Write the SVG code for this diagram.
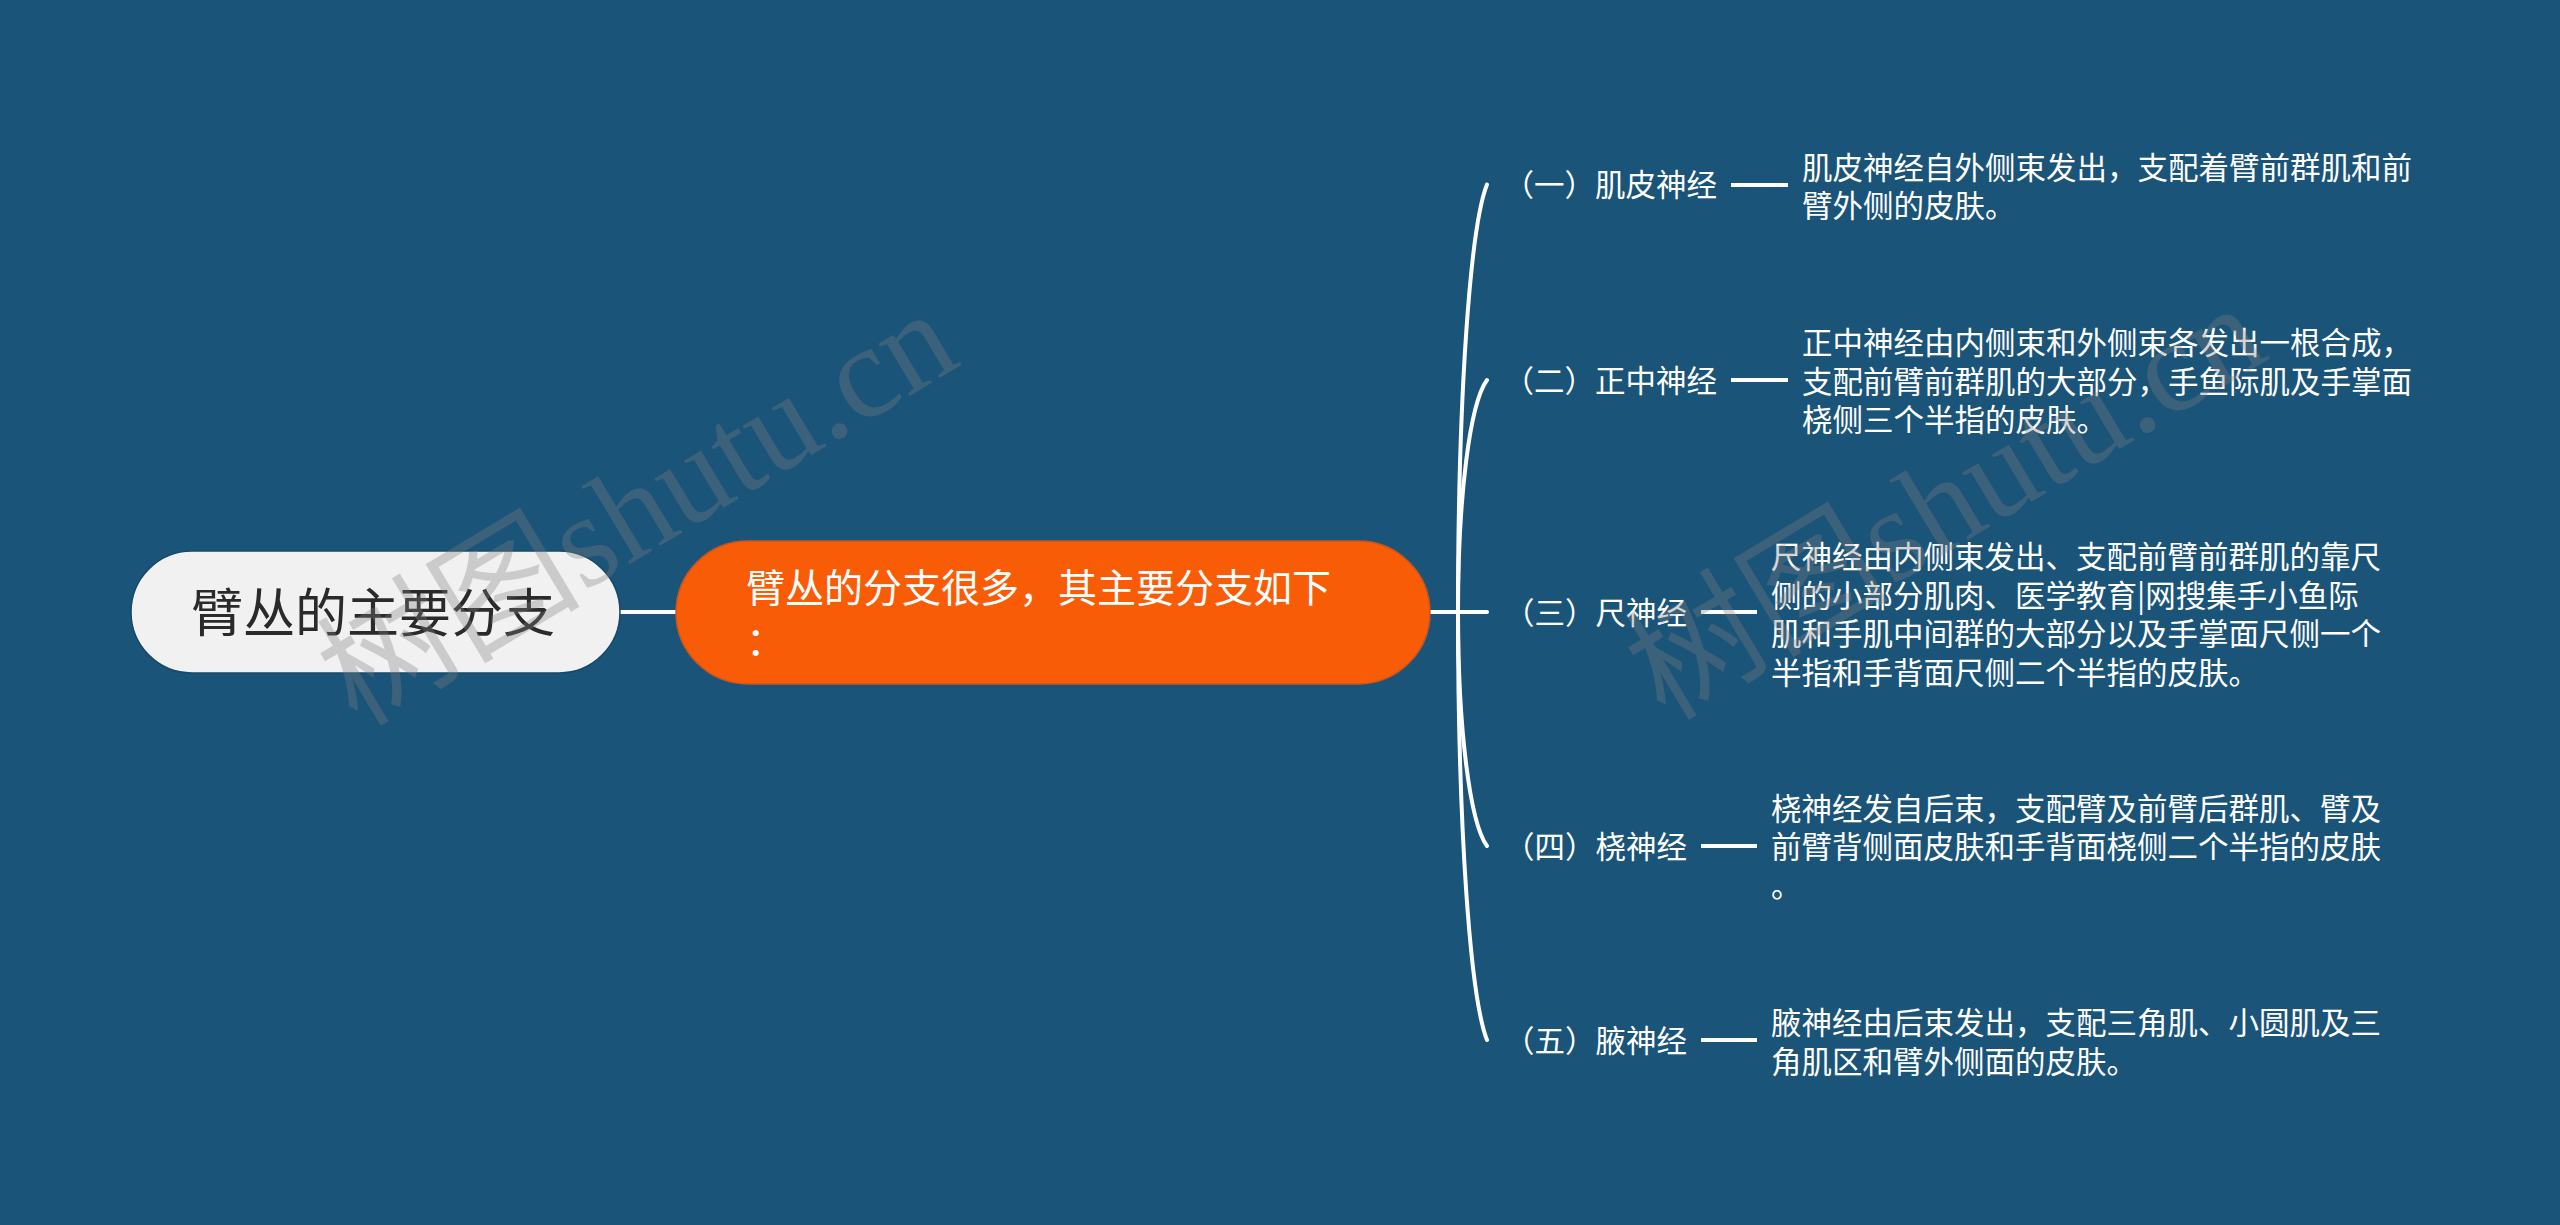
<svg xmlns="http://www.w3.org/2000/svg" width="2560" height="1225" viewBox="0 0 2560 1225">
<style>
.bg{fill:#1b5479}
.wm{font-family:"Liberation Serif","Noto Sans CJK SC",serif;font-size:132px;fill:#808080;fill-opacity:0.33}
.conn{fill:none;stroke:#ffffff;stroke-width:4;stroke-linecap:round}
.root-box{fill:#f1f1f1;stroke:#16496b;stroke-width:1.5}
.root-text{font-family:"Noto Sans CJK SC","Noto Sans",sans-serif;font-size:52px;fill:#2a2a2a}
.main-box{fill:#f95c06;stroke:#c9551f;stroke-width:1.5}
.main-text{font-family:"Noto Sans CJK SC","Noto Sans",sans-serif;font-size:39px;fill:#ffffff}
.label{font-family:"Noto Sans CJK SC","Noto Sans",sans-serif;font-size:30.5px;fill:#ffffff;text-anchor:end}
.desc{font-family:"Noto Sans CJK SC","Noto Sans",sans-serif;font-size:30.5px;fill:#ffffff}
.dash{stroke:#ffffff;stroke-width:4}
</style>
<rect class="bg" x="0" y="0" width="2560" height="1225"/>

<g id="connectors">
<path class="conn" d="M620 612 H676"/>
<path class="conn" d="M1430 612 H1487"/>
<path class="conn" d="M1458 612 C1458 398 1470 227 1487 184.5"/>
<path class="conn" d="M1458 612 C1458 496 1470 403 1487 380"/>
<path class="conn" d="M1458 612 C1458 729 1470 823 1487 846"/>
<path class="conn" d="M1458 612 C1458 826 1470 997 1487 1040"/>
</g>

<g id="root">
<rect class="root-box" x="131" y="551" width="489" height="122" rx="61" ry="61"/>
<text class="root-text" x="191" y="632">臂丛的主要分支</text>
</g>

<g id="main">
<rect class="main-box" x="676" y="541" width="754" height="143" rx="72" ry="72"/>
<text class="main-text" x="746" y="602">臂丛的分支很多，其主要分支如下</text>
<text class="main-text" x="746" y="655">：</text>
</g>

<g id="n1">
<text class="label" x="1717" y="196">（一）肌皮神经</text>
<line class="dash" x1="1731" y1="185" x2="1788" y2="185"/>
<text class="desc" x="1802" y="178.5">肌皮神经自外侧束发出，支配着臂前群肌和前</text>
<text class="desc" x="1802" y="217">臂外侧的皮肤。</text>
</g>

<g id="n2">
<text class="label" x="1717" y="392">（二）正中神经</text>
<line class="dash" x1="1731" y1="380" x2="1788" y2="380"/>
<text class="desc" x="1802" y="354">正中神经由内侧束和外侧束各发出一根合成，</text>
<text class="desc" x="1802" y="392.5">支配前臂前群肌的大部分，手鱼际肌及手掌面</text>
<text class="desc" x="1802" y="431">桡侧三个半指的皮肤。</text>
</g>

<g id="n3">
<text class="label" x="1687" y="624">（三）尺神经</text>
<line class="dash" x1="1701" y1="612" x2="1757" y2="612"/>
<text class="desc" x="1771" y="568">尺神经由内侧束发出、支配前臂前群肌的靠尺</text>
<text class="desc" x="1771" y="606.5">侧的小部分肌肉、医学教育|网搜集手小鱼际</text>
<text class="desc" x="1771" y="645">肌和手肌中间群的大部分以及手掌面尺侧一个</text>
<text class="desc" x="1771" y="683.5">半指和手背面尺侧二个半指的皮肤。</text>
</g>

<g id="n4">
<text class="label" x="1687" y="858">（四）桡神经</text>
<line class="dash" x1="1701" y1="846" x2="1757" y2="846"/>
<text class="desc" x="1771" y="819.5">桡神经发自后束，支配臂及前臂后群肌、臂及</text>
<text class="desc" x="1771" y="858">前臂背侧面皮肤和手背面桡侧二个半指的皮肤</text>
<text class="desc" x="1771" y="896.5">。</text>
</g>

<g id="n5">
<text class="label" x="1687" y="1052">（五）腋神经</text>
<line class="dash" x1="1701" y1="1040" x2="1757" y2="1040"/>
<text class="desc" x="1771" y="1034">腋神经由后束发出，支配三角肌、小圆肌及三</text>
<text class="desc" x="1771" y="1072.5">角肌区和臂外侧面的皮肤。</text>
</g>

<g id="watermark">
<text class="wm" transform="translate(357,728) rotate(-31)">树图shutu.cn</text>
<text class="wm" transform="translate(1665,722) rotate(-31)">树图shutu.cn</text>
</g>
</svg>
